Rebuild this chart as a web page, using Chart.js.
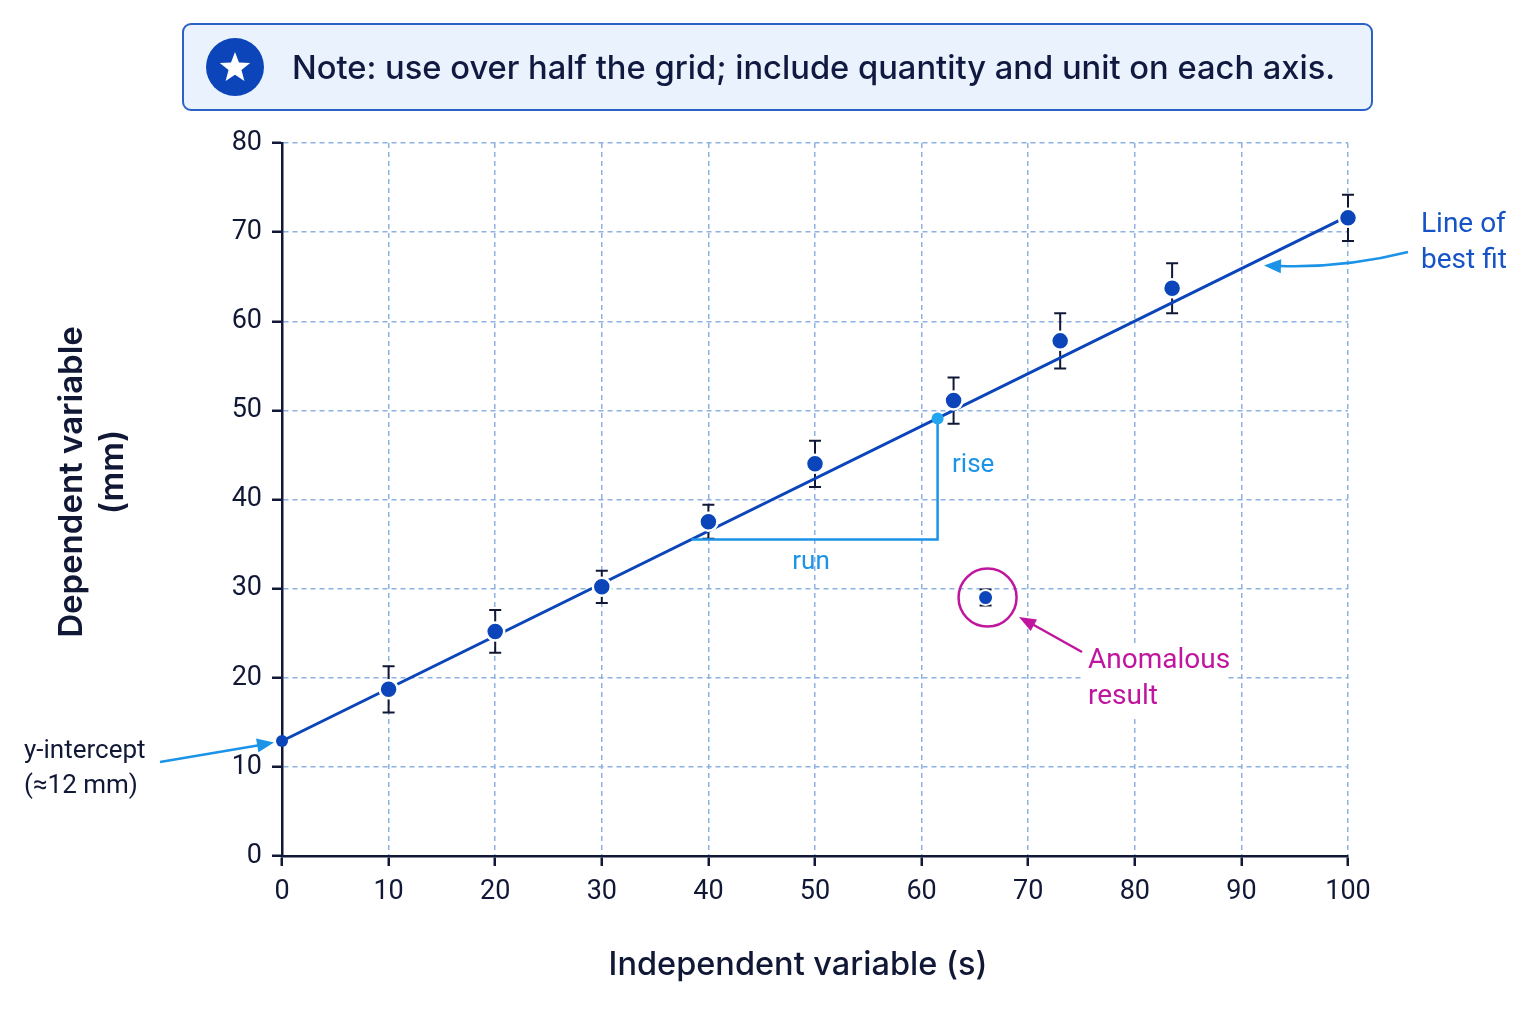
<!DOCTYPE html>
<html>
<head>
<meta charset="utf-8">
<script src="https://cdn.jsdelivr.net/npm/chart.js@4.4.1/dist/chart.umd.min.js"></script>
<style>
  html, body { margin: 0; background: #fff; }
  #wrap { width: 1536px; height: 1024px; }
</style>
</head>
<body>
<div id="wrap"><canvas id="graph"></canvas></div>
<script>
// tick labels
const xTicks = [0, 10, 20, 30, 40, 50, 60, 70, 80, 90, 100];
const yTicks = [0, 10, 20, 30, 40, 50, 60, 70, 80];

// readings (s, mm) with error bar half-heights
const timeS = [10, 20, 30, 40, 50, 63, 73, 83.5, 100];
const lengthMm = [18.7, 25.2, 30.2, 37.5, 44.0, 51.1, 57.8, 63.7, 71.6];
const errMm = [2.6, 2.4, 1.8, 1.9, 2.6, 2.6, 3.1, 2.8, 2.6];

// anomalous reading
const anomalyS = [66];
const anomalyMm = [29.0];
const anomalyErr = [0.9];

// line of best fit end points
const fitS = [0, 100];
const fitMm = [12.9, 71.8];

// gradient triangle: run start, corner, rise top
const triS = [38.4, 61.5, 61.5];
const triMm = [35.5, 35.5, 49.1];

const NAVY = '#111836';
const BLUE = '#0b45b9';
const LIGHT = '#1b93e6';
const MAGENTA = '#c0159e';

function pts(xs, ys) {
    return xs.map((x, i) => ({x: x, y: ys[i]}));
}

function arrowHead(ctx, x, y, angle, len, wid, color) {
    ctx.save();
    ctx.translate(x, y);
    ctx.rotate(angle);
    ctx.fillStyle = color;
    ctx.beginPath();
    ctx.moveTo(0, 0);
    ctx.lineTo(-len, -wid / 2);
    ctx.lineTo(-len, wid / 2);
    ctx.closePath();
    ctx.fill();
    ctx.restore();
}

// error bars, drawn under the dots
const errorBars = {
    id: 'errorBars',
    beforeDatasetsDraw(chart) {
        const {ctx, scales: {x, y}} = chart;
        ctx.save();
        ctx.strokeStyle = NAVY;
        ctx.lineWidth = 2;
        const draw = (xs, ys, es) => {
            xs.forEach((v, i) => {
                const px = x.getPixelForValue(v);
                const top = y.getPixelForValue(ys[i] + es[i]);
                const bot = y.getPixelForValue(ys[i] - es[i]);
                ctx.beginPath();
                ctx.moveTo(px, top);
                ctx.lineTo(px, bot);
                ctx.moveTo(px - 6, top);
                ctx.lineTo(px + 6, top);
                ctx.moveTo(px - 6, bot);
                ctx.lineTo(px + 6, bot);
                ctx.stroke();
            });
        };
        draw(timeS, lengthMm, errMm);
        draw(anomalyS, anomalyMm, anomalyErr);
        ctx.restore();
    }
};

// note box, axis titles and annotations
const extras = {
    id: 'extras',
    afterDraw(chart) {
        const {ctx, scales: {x, y}} = chart;
        ctx.save();

        // note box
        ctx.fillStyle = '#eaf3fd';
        ctx.strokeStyle = '#2a60c8';
        ctx.lineWidth = 2;
        ctx.beginPath();
        ctx.roundRect(183, 24, 1189, 86, 8);
        ctx.fill();
        ctx.stroke();

        ctx.fillStyle = BLUE;
        ctx.beginPath();
        ctx.arc(235, 67, 29, 0, Math.PI * 2);
        ctx.fill();
        ctx.fillStyle = '#fff';
        ctx.beginPath();
        for (let k = 0; k < 10; k++) {
            const r = k % 2 === 0 ? 16 : 6.8;
            const a = -Math.PI / 2 + k * Math.PI / 5;
            const sx = 235 + r * Math.cos(a), sy = 68 + r * Math.sin(a);
            if (k === 0) ctx.moveTo(sx, sy); else ctx.lineTo(sx, sy);
        }
        ctx.closePath();
        ctx.fill();

        const note = 'Note: use over half the grid; include quantity and unit on each axis.';
        ctx.font = '500 30px Inter';
        const w = ctx.measureText(note).width;
        const size = 30 * 1044 / w;
        ctx.font = '500 ' + size.toFixed(1) + 'px Inter';
        ctx.fillStyle = '#101a40';
        ctx.textBaseline = 'middle';
        ctx.textAlign = 'left';
        ctx.fillText(note, 292, 69);

        // axis titles
        ctx.fillStyle = NAVY;
        ctx.textAlign = 'center';
        ctx.font = '500 32.5px Inter';
        ctx.fillText('Independent variable (s)', 798, 965);
        ctx.save();
        ctx.translate(72, 482);
        ctx.rotate(-Math.PI / 2);
        ctx.font = '600 33px Inter';
        ctx.fillText('Dependent variable', 0, 0);
        ctx.fillText('(mm)', 10, 41);
        ctx.restore();

        // gradient labels
        ctx.fillStyle = LIGHT;
        ctx.font = '26px Roboto';
        ctx.textAlign = 'left';
        ctx.fillText('rise', 952, 465);
        ctx.textAlign = 'center';
        ctx.fillText('run', 811, 562);

        // y-intercept label + arrow
        const ix = x.getPixelForValue(fitS[0]);
        const iy = y.getPixelForValue(fitMm[0]);
        ctx.fillStyle = NAVY;
        ctx.textAlign = 'left';
        ctx.font = '26px Roboto';
        ctx.fillText('y-intercept', 24, 751);
        ctx.fillText('(\u224812 mm)', 24, 786);
        ctx.strokeStyle = LIGHT;
        ctx.lineWidth = 2.5;
        const tx = ix - 8, ty = iy + 1.5;
        ctx.beginPath();
        ctx.moveTo(160, 762);
        ctx.lineTo(tx - 12, ty + 2.3);
        ctx.stroke();
        arrowHead(ctx, tx, ty, Math.atan2(ty - 762, tx - 160), 17, 14, LIGHT);

        // line of best fit label + arrow
        ctx.fillStyle = '#1553c6';
        ctx.font = '28px Roboto';
        ctx.fillText('Line of', 1421, 225);
        ctx.fillText('best fit', 1421, 261);
        ctx.beginPath();
        ctx.moveTo(1408, 252);
        ctx.quadraticCurveTo(1345, 268, 1280, 266);
        ctx.stroke();
        arrowHead(ctx, 1264, 265.5, Math.PI + 0.04, 17, 14, LIGHT);

        // anomalous result circle, label and arrow
        const ax = x.getPixelForValue(anomalyS[0]);
        const ay = y.getPixelForValue(anomalyMm[0]);
        ctx.strokeStyle = MAGENTA;
        ctx.lineWidth = 2.5;
        ctx.beginPath();
        ctx.arc(ax + 2, ay, 29, 0, Math.PI * 2);
        ctx.stroke();
        ctx.font = '28px Roboto';
        ctx.fillStyle = '#fff';
        ctx.fillRect(1084, 644, 142, 74);
        ctx.fillStyle = MAGENTA;
        ctx.fillText('Anomalous', 1088, 661);
        ctx.fillText('result', 1088, 697);
        ctx.beginPath();
        ctx.moveTo(1082, 652);
        ctx.lineTo(1032, 624);
        ctx.stroke();
        arrowHead(ctx, 1019, 617, Math.atan2(617 - 652, 1019 - 1082), 17, 13, MAGENTA);

        ctx.restore();
    }
};

const ctx = document.getElementById('graph').getContext('2d');
const graph = new Chart(ctx, {
    type: 'scatter',
    data: {
        datasets: [
            {
                label: 'Readings',
                data: pts(timeS, lengthMm),
                pointRadius: 9,
                pointBackgroundColor: BLUE,
                pointBorderColor: '#fff',
                pointBorderWidth: 2.5,
                clip: 20,
                order: 0,
            },
            {
                label: 'Anomalous',
                data: pts(anomalyS, anomalyMm),
                pointRadius: 7.5,
                pointBackgroundColor: BLUE,
                pointBorderColor: '#fff',
                pointBorderWidth: 2,
                order: 0,
            },
            {
                label: 'Gradient triangle',
                type: 'line',
                data: pts(triS, triMm),
                borderColor: LIGHT,
                borderWidth: 2.5,
                pointRadius: [0, 0, 6],
                pointBackgroundColor: '#22a6f0',
                pointBorderWidth: 0,
                order: 1,
            },
            {
                label: 'Best fit',
                type: 'line',
                data: pts(fitS, fitMm),
                borderColor: BLUE,
                borderWidth: 3,
                pointRadius: [6, 0],
                pointBackgroundColor: BLUE,
                pointBorderWidth: 0,
                clip: 20,
                order: 2,
            }
        ]
    },
    options: {
        responsive: true,
        maintainAspectRatio: false,
        animation: false,
        layout: {
            padding: {top: 143, right: 188, bottom: 0, left: 0}
        },
        plugins: {
            legend: {display: false},
            tooltip: {enabled: false},
        },
        scales: {
            x: {
                type: 'linear',
                min: xTicks[0],
                max: xTicks[xTicks.length - 1],
                afterBuildTicks: (s) => { s.ticks = xTicks.map(v => ({value: v})); },
                afterFit: (s) => { s.height = 168; },
                ticks: {
                    color: NAVY,
                    font: {family: 'Roboto', size: 27},
                    padding: 10,
                },
                grid: {
                    color: '#8db2e2',
                    lineWidth: 1.5,
                    tickLength: 10,
                    tickColor: NAVY,
                    tickWidth: 2.5,
                    tickBorderDash: [],
                },
                border: {color: NAVY, width: 2.5, dash: [5, 4]},
            },
            y: {
                type: 'linear',
                min: yTicks[0],
                max: yTicks[yTicks.length - 1],
                afterBuildTicks: (s) => { s.ticks = yTicks.map(v => ({value: v})); },
                afterFit: (s) => { s.width = 282; },
                ticks: {
                    color: NAVY,
                    font: {family: 'Roboto', size: 27},
                    padding: 10,
                },
                grid: {
                    color: '#8db2e2',
                    lineWidth: 1.5,
                    tickLength: 10,
                    tickColor: NAVY,
                    tickWidth: 2.5,
                    tickBorderDash: [],
                },
                border: {color: NAVY, width: 2.5, dash: [5, 4]},
            }
        }
    },
    plugins: [errorBars, extras],
});
</script>
</body>
</html>
